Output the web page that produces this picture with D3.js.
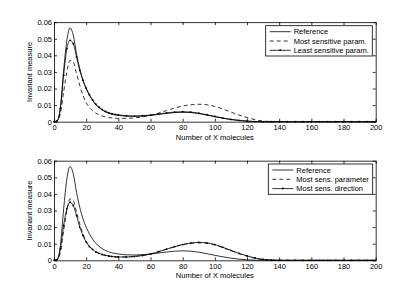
<!DOCTYPE html>
<html>
<head>
<meta charset="utf-8">
<script src="https://cdn.jsdelivr.net/npm/d3@7"></script>
<style>
body { margin: 0; background: #fff; }
svg text { font-family: "Liberation Sans", Arial, sans-serif; fill: #000; }
</style>
</head>
<body>
<svg id="chart" width="415" height="293"></svg>
<script>
// number of X molecules (shared grid)
var xs = [0, 2, 4, 6, 8, 10, 12, 14, 16, 18, 20, 22, 24, 26, 28, 30, 32, 34, 36, 38, 40,
	45, 50, 55, 60, 65, 70, 75, 80, 85, 90, 95, 100, 105, 110, 115, 120, 125, 130, 135, 140,
	145, 150, 155, 160, 165, 170, 175, 180, 185, 190, 195, 200];

var reference = [0, 0.0006, 0.009, 0.031, 0.049, 0.0565, 0.052, 0.041, 0.032, 0.025, 0.020, 0.016, 0.0128, 0.0102, 0.0084, 0.007, 0.0059, 0.0051, 0.0045, 0.0041, 0.0038,
	0.0033, 0.0032, 0.0034, 0.0038, 0.0044, 0.005, 0.0055, 0.0057, 0.0055, 0.0049, 0.004, 0.003, 0.0021, 0.0013, 0.0007, 0.0003, 0.0001, 0, 0, 0,
	0, 0, 0, 0, 0, 0, 0, 0, 0, 0, 0, 0];

var mostSensParam = [0, 0.0004, 0.005, 0.018, 0.030, 0.037, 0.036, 0.029, 0.022, 0.016, 0.0115, 0.0086, 0.0066, 0.0051, 0.0041, 0.0034, 0.0029, 0.0025, 0.0023, 0.0021, 0.002,
	0.002, 0.0023, 0.0029, 0.0038, 0.0052, 0.0067, 0.0082, 0.0094, 0.0102, 0.0105, 0.0102, 0.0092, 0.0076, 0.0058, 0.004, 0.0025, 0.0012, 0.0004, 0.0001, 0,
	0, 0, 0, 0, 0, 0, 0, 0, 0, 0, 0, 0];

var leastSensParam = [0, 0.0005, 0.008, 0.028, 0.044, 0.049, 0.047, 0.039, 0.031, 0.025, 0.0202, 0.0163, 0.0131, 0.0105, 0.0087, 0.0073, 0.0062, 0.0054, 0.0048, 0.0044, 0.0041,
	0.0036, 0.0034, 0.0036, 0.004, 0.0046, 0.0053, 0.0058, 0.006, 0.0058, 0.0051, 0.0042, 0.0032, 0.0022, 0.0014, 0.0008, 0.0004, 0.0001, 0, 0, 0,
	0, 0, 0, 0, 0, 0, 0, 0, 0, 0, 0, 0];

var mostSensDir = [0, 0.0004, 0.007, 0.021, 0.031, 0.035, 0.033, 0.027, 0.020, 0.015, 0.011, 0.0083, 0.0065, 0.0051, 0.0042, 0.0035, 0.003, 0.0026, 0.0023, 0.0021, 0.002,
	0.002, 0.0023, 0.0029, 0.0038, 0.0052, 0.0067, 0.0082, 0.0095, 0.0104, 0.0108, 0.0105, 0.0095, 0.0078, 0.006, 0.0042, 0.0027, 0.0014, 0.0006, 0.0002, 0,
	0, 0, 0, 0, 0, 0, 0, 0, 0, 0, 0, 0];

var xTicks = [0, 20, 40, 60, 80, 100, 120, 140, 160, 180, 200];
var yTicks = [0, 0.01, 0.02, 0.03, 0.04, 0.05, 0.06];

var topLabels = ["Reference", "Most sensitive param.", "Least sensitive param."];
var bottomLabels = ["Reference", "Most sens. parameter", "Most sens. direction"];

var svg = d3.select("#chart");

var styles = [
	{ dash: null, dots: false },
	{ dash: "4,3", dots: false },
	{ dash: null, dots: true }
];

function panel(top, seriesList, labels, legendBox) {
	var x = d3.scaleLinear().domain([0, 200]).range([54, 375.7]);
	var y = d3.scaleLinear().domain([0, 0.06]).range([top + 99.6, top]);
	var g = svg.append("g");

	var line = d3.line()
		.curve(d3.curveMonotoneX)
		.x(function (d, i) { return x(xs[i]); })
		.y(function (d) { return y(d); });

	seriesList.forEach(function (s, k) {
		g.append("path")
			.datum(s)
			.attr("d", line)
			.attr("fill", "none")
			.attr("stroke", "#000")
			.attr("stroke-width", 0.8)
			.attr("stroke-dasharray", styles[k].dash);
		if (styles[k].dots) {
			g.selectAll(null)
				.data(s)
				.enter().append("circle")
				.attr("cx", function (d, i) { return x(xs[i]); })
				.attr("cy", function (d) { return y(d); })
				.attr("r", 0.9)
				.attr("fill", "#000");
		}
	});

	// axes with inward ticks on all sides
	g.append("g").attr("transform", "translate(0," + y(0) + ")")
		.call(d3.axisBottom(x).tickValues(xTicks).tickSizeInner(-3).tickSizeOuter(0).tickPadding(3));
	g.append("g").attr("transform", "translate(0," + y(0.06) + ")")
		.call(d3.axisTop(x).tickValues(xTicks).tickSizeInner(-3).tickSizeOuter(0).tickFormat(""));
	g.append("g").attr("transform", "translate(" + x(0) + ",0)")
		.call(d3.axisLeft(y).tickValues(yTicks).tickSizeInner(-3).tickSizeOuter(0).tickPadding(2)
			.tickFormat(function (d) { return d === 0 ? "0" : d3.format(".2f")(d); }));
	g.append("g").attr("transform", "translate(" + x(200) + ",0)")
		.call(d3.axisRight(y).tickValues(yTicks).tickSizeInner(-3).tickSizeOuter(0).tickFormat(""));
	g.selectAll(".domain").attr("stroke", "#000").attr("stroke-width", 0.8);
	g.selectAll(".tick line").attr("stroke", "#000").attr("stroke-width", 0.8);
	g.selectAll(".tick text").style("font-size", "7.5px");

	g.append("text")
		.attr("x", (x(0) + x(200)) / 2)
		.attr("y", y(0) + 18)
		.attr("text-anchor", "middle")
		.style("font-size", "7.5px")
		.text("Number of X molecules");
	g.append("text")
		.attr("transform", "translate(32," + (y(0) + y(0.06)) / 2 + ") rotate(-90)")
		.attr("text-anchor", "middle")
		.style("font-size", "7.5px")
		.text("Invariant measure");

	// legend
	var lg = g.append("g");
	lg.append("rect")
		.attr("x", legendBox[0]).attr("y", legendBox[1])
		.attr("width", legendBox[2]).attr("height", legendBox[3])
		.attr("fill", "#fff").attr("stroke", "#000").attr("stroke-width", 0.8);
	labels.forEach(function (lab, k) {
		var ly = legendBox[1] + 6 + k * 9.3;
		var x0 = legendBox[0] + 4, x1 = legendBox[0] + 25;
		lg.append("line")
			.attr("x1", x0).attr("x2", x1).attr("y1", ly).attr("y2", ly)
			.attr("stroke", "#000").attr("stroke-width", 0.8)
			.attr("stroke-dasharray", styles[k].dash);
		if (styles[k].dots) {
			lg.append("circle").attr("cx", (x0 + x1) / 2).attr("cy", ly).attr("r", 1).attr("fill", "#000");
		}
		lg.append("text")
			.attr("x", x1 + 3).attr("y", ly + 2.7)
			.style("font-size", "7.5px")
			.text(lab);
	});
}

panel(22.1, [reference, mostSensParam, leastSensParam], topLabels, [265.7, 25.7, 106.6, 30.3]);
panel(160.7, [reference, mostSensParam, mostSensDir], bottomLabels, [268.3, 164, 104.4, 30.3]);
</script>
</body>
</html>
